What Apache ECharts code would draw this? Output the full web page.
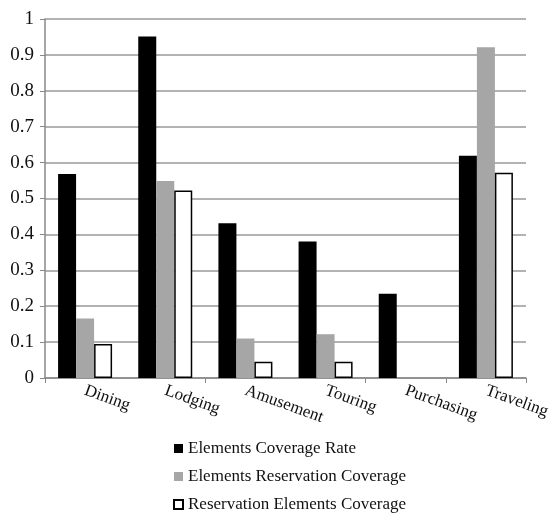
<!DOCTYPE html>
<html>
<head>
<meta charset="utf-8">
<script src="https://cdn.jsdelivr.net/npm/echarts@6/dist/echarts.min.js"></script>
<style>html,body{margin:0;padding:0;background:#fff;}#c{width:553px;height:517px;}</style>
</head>
<body>
<div id="c"></div>
<script>
const categories = ['Dining', 'Lodging', 'Amusement', 'Touring', 'Purchasing', 'Traveling'];
const coverageRate = [0.568, 0.951, 0.431, 0.38, 0.235, 0.619];
const reservationCoverage = [0.166, 0.549, 0.11, 0.122, null, 0.921];
const reservationElements = [0.095, 0.522, 0.045, 0.045, null, 0.572];
const seriesNames = ['Elements Coverage Rate', 'Elements Reservation Coverage', 'Reservation Elements Coverage'];

const font = 'Liberation Serif';
const chart = echarts.init(document.getElementById('c'), null, {renderer: 'canvas'});
chart.setOption({
  animation: false,
  backgroundColor: '#fff',
  grid: {left: 45, right: 25, top: 19, bottom: 139, containLabel: false},
  legend: {
    orient: 'vertical', left: 168, top: 435, height: 90, width: 300,
    icon: 'rect', itemWidth: 9, itemHeight: 9, itemGap: 11,
    textStyle: {fontFamily: font, fontSize: 17, color: '#111', lineHeight: 17},
    data: seriesNames
  },
  xAxis: {
    type: 'category', data: categories,
    axisLine: {lineStyle: {color: '#888', width: 1.5}},
    axisTick: {show: true, interval: 1, length: 5, lineStyle: {color: '#888', width: 1}},
    axisLabel: {interval: 0, rotate: -20, margin: 12, fontFamily: font, fontSize: 17, color: '#111'}
  },
  yAxis: {
    type: 'value', min: 0, max: 1, interval: 0.1,
    axisLine: {show: true, lineStyle: {color: '#888', width: 1.5}},
    axisTick: {show: true, length: 5, lineStyle: {color: '#888'}},
    axisLabel: {fontFamily: font, fontSize: 19, color: '#111', margin: 11},
    splitLine: {lineStyle: {color: '#999', width: 1.5}}
  },
  series: [
    {name: seriesNames[0], type: 'bar', data: coverageRate, barWidth: 18, barGap: '0%',
     itemStyle: {color: '#000'}},
    {name: seriesNames[1], type: 'bar', data: reservationCoverage, barWidth: 18, barGap: '0%',
     itemStyle: {color: '#a6a6a6'}},
    {name: seriesNames[2], type: 'bar', data: reservationElements, barWidth: 18, barGap: '0%',
     itemStyle: {color: '#fff', borderColor: '#000', borderWidth: 1.5}}
  ]
});
</script>
</body>
</html>
